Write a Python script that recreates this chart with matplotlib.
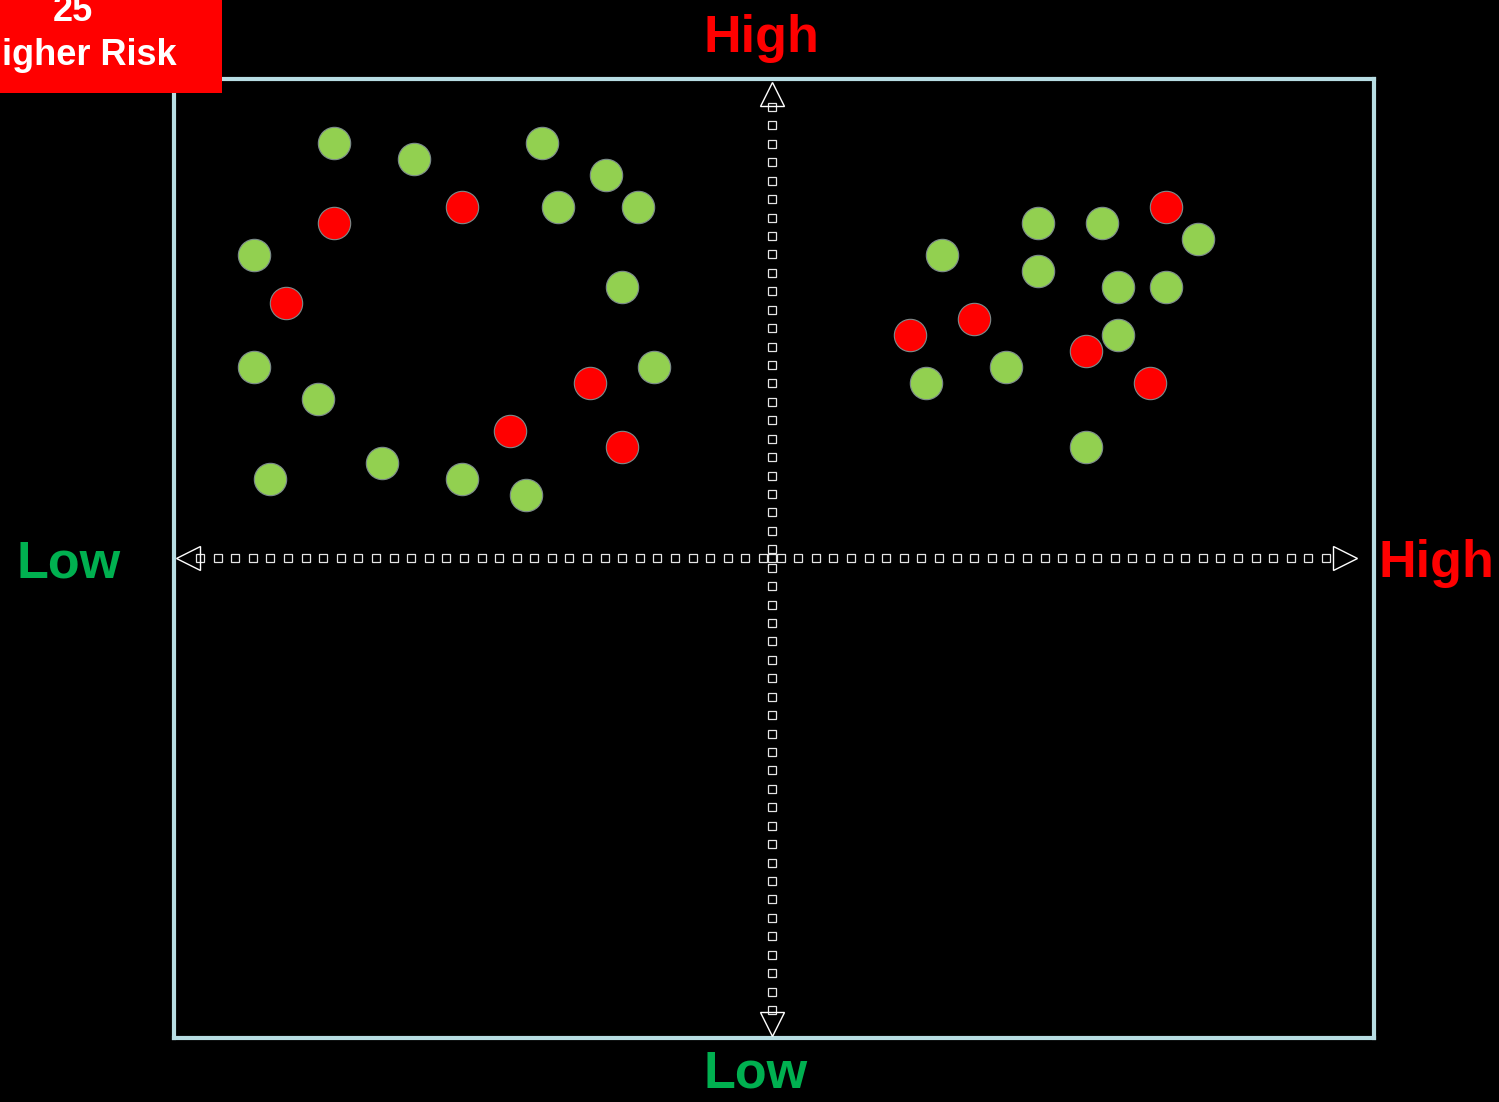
import numpy as np
import matplotlib
matplotlib.use("Agg")
import matplotlib.pyplot as plt
from matplotlib.patches import Rectangle

# Risk register items: impact (x) and likelihood (y) on a 0-75 / 0-60 grid
green_x = [10, 15, 23, 27, 24, 29, 5, 28, 5, 30, 9, 6, 13, 18, 22,
           48, 54, 58, 64, 54, 59, 62, 59, 47, 52, 57]
green_y = [56, 55, 56, 54, 52, 52, 49, 47, 42, 42, 40, 35, 36, 35, 34,
           49, 51, 51, 50, 48, 47, 47, 44, 41, 42, 37]
red_x = [10, 18, 7, 26, 21, 28,
         62, 50, 46, 57, 61]
red_y = [51, 52, 46, 41, 38, 37,
         52, 45, 44, 43, 41]

axis_low = "Low"
axis_high = "High"
badge_count = "25"
badge_label = "Higher Risk"

W, H = 1499, 1102
fig = plt.figure(figsize=(W / 100, H / 100), dpi=100, facecolor="black")

def fx(px):
    return px / W

def fy(py):
    return 1 - py / H

ax = fig.add_axes([fx(174), fy(1038), 1200 / W, 959 / H])
ax.set_facecolor("black")
ax.set_xlim(0, 75)
ax.set_ylim(0.0625, 60)
ax.set_xticks([])
ax.set_yticks([])
for sp in ax.spines.values():
    sp.set_color("#b7dde3")
    sp.set_linewidth(3.0)

# Quadrant divider lines drawn as chains of hollow squares
cx, cy = 37.375, 30.06
hx = np.linspace(1.625, 72.0, 65)
vy = np.linspace(58.25, 1.81, 50)
sq = dict(marker="s", ms=6.2, mfc="none", mec="#e6e6e6", mew=0.9, ls="none", zorder=2)
ax.plot(hx, np.full_like(hx, cy), **sq)
ax.plot(np.full_like(vy, cx), vy, **sq)
ax.plot([cx], [cy], **sq)

# Open arrowheads at each end of the dividers
tri = dict(ms=17.5, mfc="none", mec="white", mew=1.0, ls="none", zorder=3, clip_on=False)
ax.plot([0.875], [cy], marker="<", **tri)
ax.plot([73.16], [cy], marker=">", **tri)
ax.plot([cx], [59.06], marker="^", **tri)
ax.plot([cx], [0.94], marker="v", **tri)

# Risk items
dot = dict(marker="o", ms=23.3, mew=0.8, mec="#7d8c8c", ls="none", zorder=4)
ax.plot(green_x, green_y, mfc="#92d050", **dot)
ax.plot(red_x, red_y, mfc="#ff0000", **dot)

font = "Liberation Sans"
big = 37.5
fig.text(fx(761.5), fy(52), axis_high, color="#ff0000", fontsize=big, fontweight="bold",
         family=font, ha="center", va="baseline")
fig.text(fx(1378), fy(577), axis_high, color="#ff0000", fontsize=big, fontweight="bold",
         family=font, ha="left", va="baseline")
fig.text(fx(16), fy(578), axis_low, color="#00b050", fontsize=big, fontweight="bold",
         family=font, ha="left", va="baseline")
fig.text(fx(756), fy(1087), axis_low, color="#00b050", fontsize=big, fontweight="bold",
         family=font, ha="center", va="baseline")

# Count badge in the top-left corner
fig.patches.append(Rectangle((0, fy(93)), fx(222), 93 / H, transform=fig.transFigure,
                             facecolor="#ff0000", edgecolor="none", zorder=0))
fig.text(fx(73), fy(21), badge_count, color="white", fontsize=26, fontweight="bold",
         family=font, ha="center", va="baseline")
fig.text(fx(76), fy(65), badge_label, color="white", fontsize=26, fontweight="bold",
         family=font, ha="center", va="baseline")

fig.savefig("out.png", dpi=100, facecolor="black")
